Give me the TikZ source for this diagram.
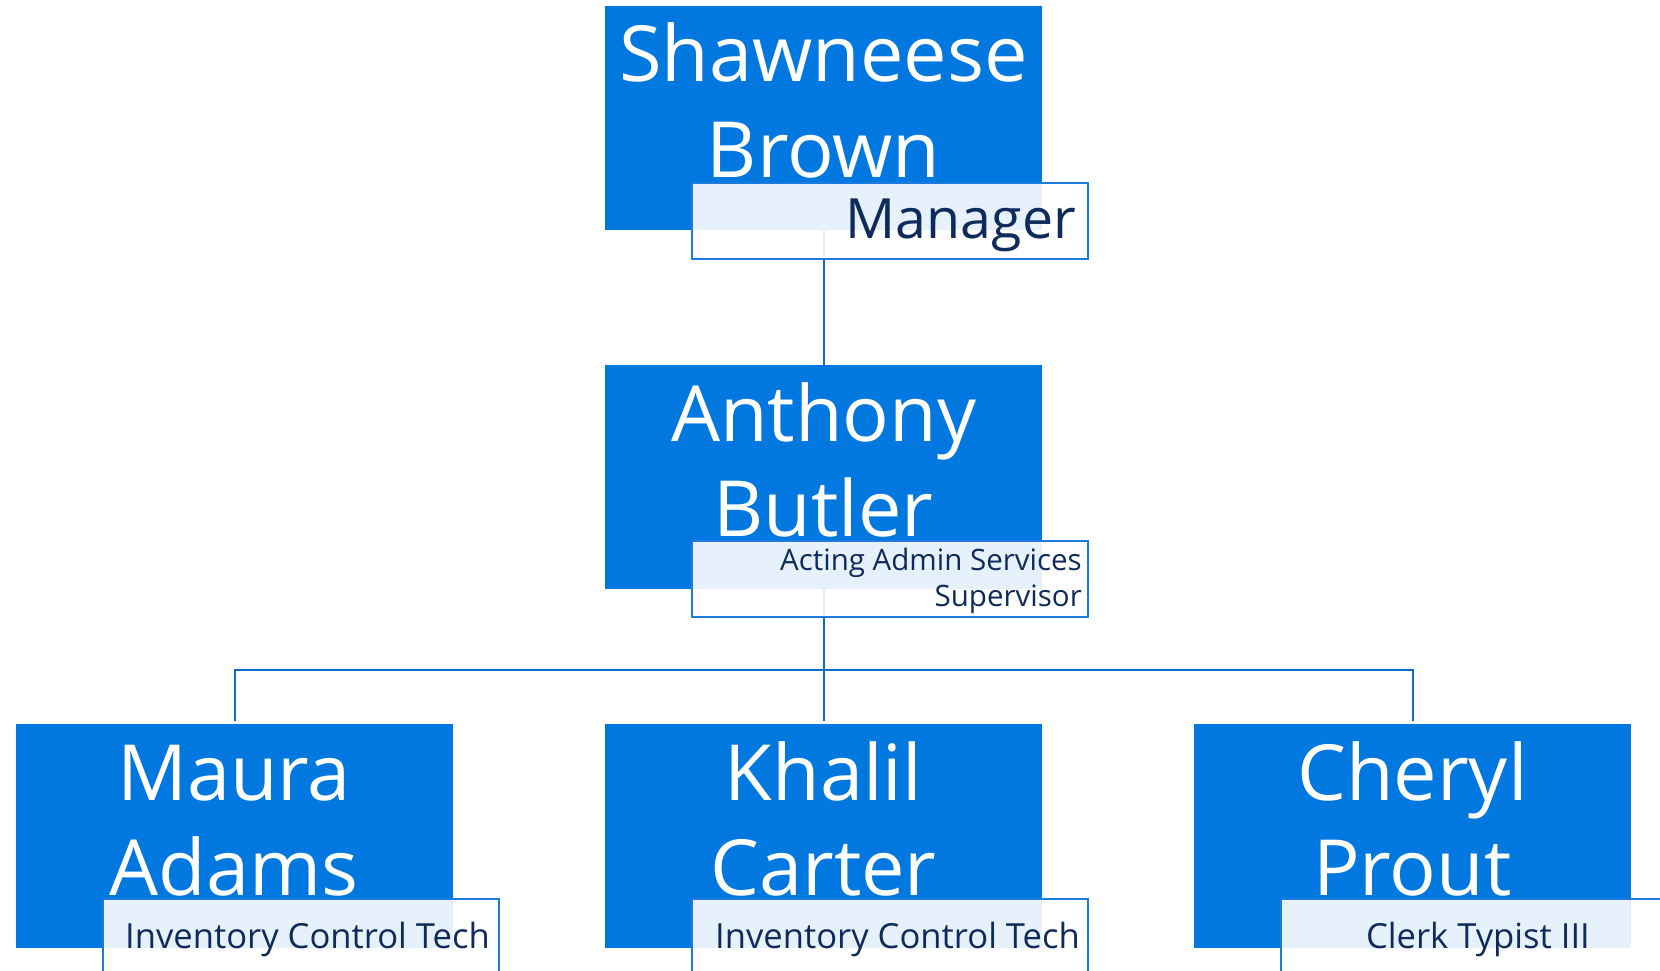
\documentclass[tikz,border=0pt]{standalone}
\usepackage{fontspec}
\setmainfont{Open Sans}
\definecolor{boxblue}{HTML}{0078E0}
\definecolor{linkblue}{HTML}{0B6CCB}
\definecolor{titleedge}{HTML}{1C7BDD}
\definecolor{titletext}{HTML}{0F2B5B}
\tikzset{
  namebox/.style={draw=none, fill=boxblue, minimum width=437pt, minimum height=224pt, inner sep=0pt, anchor=north west},
  titlebox/.style={draw=titleedge, line width=2pt, fill=white, fill opacity=0.9, minimum width=396pt, minimum height=76pt, inner sep=0pt, anchor=north west},
  nametext/.style={text=white, inner sep=0pt, anchor=base, font=\fontsize{77.5}{95}\selectfont},
  titletextstyle/.style={text=titletext, inner sep=0pt, anchor=base east},
  link/.style={draw=linkblue, line width=2.4pt},
}
\begin{document}
\begin{tikzpicture}[x=1pt,y=-1pt]
\clip (0,0) rectangle (1660,971);
\useasboundingbox (0,0) rectangle (1660,971);
\fill[white] (0,0) rectangle (1660,971);

% boxes
\node[namebox] (sb) at (605,6) {};
\node[namebox] (ab) at (605,365) {};
\node[namebox] (ma) at (16,724) {};
\node[namebox] (kc) at (605,724) {};
\node[namebox] (cp) at (1194,724) {};

% connectors
\coordinate (bus) at (823.5,670);
\draw[link] (sb.south) -- (ab.north);
\draw[link] (ab.south) -- ([yshift=3pt]kc.north);
\draw[link] ([yshift=3pt]ma.north) |- (bus) -| ([yshift=3pt]cp.north);

% title boxes
\node[titlebox] (sbt) at (691,182) {};
\node[titlebox] (abt) at (691,540) {};
\node[titlebox] (mat) at (102,898) {};
\node[titlebox] (kct) at (691,898) {};
\node[titlebox] (cpt) at (1280,898) {};

% names
\node[nametext] (sbn1) at (823.5,82) {Shawneese};
\node[nametext] (sbn2) at (823.5,177) {Brown};
\node[nametext] (abn1) at (823.5,441) {Anthony};
\node[nametext] (abn2) at (823.5,536) {Butler};
\node[nametext] (man1) at (234,800) {Maura};
\node[nametext] (man2) at (234,895) {Adams};
\node[nametext] (kcn1) at (823.5,800) {Khalil};
\node[nametext] (kcn2) at (823.5,895) {Carter};
\node[nametext] (cpn1) at (1412.5,800) {Cheryl};
\node[nametext] (cpn2) at (1412.5,895) {Prout};

% titles
\node[titletextstyle, font=\fontsize{55.5}{66}\selectfont] (sbtt) at (1076,238) {Manager};
\node[titletextstyle, font=\fontsize{29.5}{36}\selectfont] (abtt1) at (1082,570) {Acting Admin Services};
\node[titletextstyle, font=\fontsize{29.5}{36}\selectfont] (abtt2) at (1082,606) {Supervisor};
\node[titletextstyle, font=\fontsize{34.6}{40}\selectfont] (matt) at (490,948) {Inventory Control Tech};
\node[titletextstyle, font=\fontsize{34.6}{40}\selectfont] (kctt) at (1080,948) {Inventory Control Tech};
\node[titletextstyle, font=\fontsize{34.6}{40}\selectfont] (cptt) at (1590,948) {Clerk Typist III};
\end{tikzpicture}
\end{document}
